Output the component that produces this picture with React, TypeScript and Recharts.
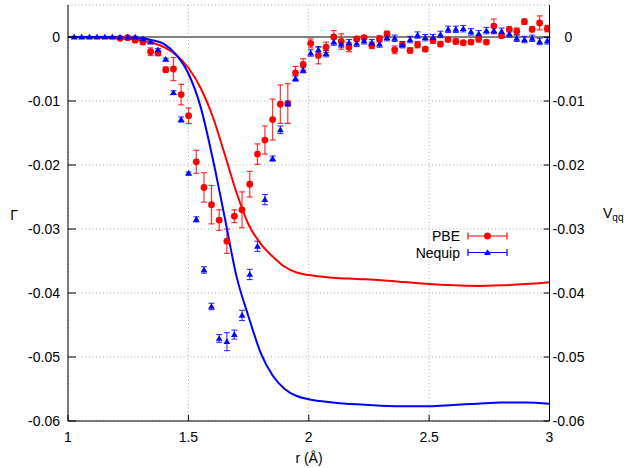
import {
  ComposedChart,
  Line,
  Scatter,
  XAxis,
  YAxis,
  CartesianGrid,
  ReferenceLine,
  ErrorBar,
  Legend,
} from 'recharts'

// bin centres (Å) for the sampled Γ points
const R_BINS = [
  1.026, 1.057, 1.089, 1.121, 1.153, 1.184, 1.216, 1.248, 1.279, 1.311,
  1.343, 1.374, 1.406, 1.438, 1.470, 1.501, 1.533, 1.565, 1.596, 1.628,
  1.660, 1.691, 1.723, 1.755, 1.787, 1.818, 1.850, 1.882, 1.913, 1.945,
  1.977, 2.008, 2.040, 2.072, 2.104, 2.135, 2.167, 2.199, 2.230, 2.262,
  2.294, 2.325, 2.357, 2.389, 2.421, 2.452, 2.484, 2.516, 2.547, 2.579,
  2.611, 2.642, 2.674, 2.706, 2.738, 2.769, 2.801, 2.833, 2.864, 2.896,
  2.928, 2.959, 2.991,
]

// Nequip Γ, one value per bin
const NEQUIP_G = [
  0, 0, 0, 0, 0, 0, 0, 0, 0, -0.0003,
  -0.0008, -0.002, -0.0035, -0.0087, -0.0129, -0.0213, -0.0285, -0.0364, -0.0421, -0.0471,
  -0.0476, -0.0465, -0.0435, -0.0371, -0.0327, -0.0254, -0.019, -0.0145, -0.0104, -0.0065,
  -0.0052, -0.0025, -0.002, -0.0026, -0.0008, -0.0011, -0.0009, -0.001, -0.0006, -0.0009,
  -0.0011, -0.0001, -0.0002, -0.0012, -0.0004, 0.0003, -0.0001, -0.0001, 0.0004, 0.0012,
  0.0012, 0.0013, 0.0008, 0.0005, 0.001, 0.001, 0.0009, 0.0005, -0.0002, -0.0004,
  -0.0002, -0.0007, -0.0006,
]
const NEQUIP_ERR = [
  0.0001, 0.0001, 0.0001, 0.0001, 0.0001, 0.0001, 0.0001, 0.0001, 0.0001, 0.0002,
  0.0002, 0.0002, 0.0002, 0.0003, 0.0004, 0.0002, 0.0004, 0.0005, 0.0005, 0.0006,
  0.0014, 0.0007, 0.0008, 0.0008, 0.0008, 0.0008, 0.0004, 0.0006, 0.0004, 0.0004,
  0.0004, 0.0005, 0.0005, 0.0005, 0.0005, 0.0005, 0.0005, 0.0005, 0.0005, 0.0005,
  0.0005, 0.0005, 0.0005, 0.0005, 0.0005, 0.0005, 0.0005, 0.0005, 0.0005, 0.0005,
  0.0005, 0.0005, 0.0005, 0.0005, 0.0005, 0.0005, 0.0005, 0.0005, 0.0005, 0.0005,
  0.0005, 0.0005, 0.0005,
]

// PBE Γ starts at the 7th bin
const PBE_R = R_BINS.slice(6)
const PBE_G = [
  -0.0002, -0.0001, -0.0005, -0.0008, -0.0023, -0.0025, -0.0051, -0.005, -0.009, -0.0123,
  -0.0195, -0.0235, -0.0262, -0.0286, -0.0319, -0.028, -0.027, -0.023, -0.0183, -0.0161,
  -0.0129, -0.0105, -0.0104, -0.0056, -0.0043, -0.001, -0.0029, -0.0016, 0, -0.0007,
  -0.0016, -0.0003, -0.0001, -0.0013, -0.0003, 0.0005, -0.002, -0.0012, -0.0021, -0.0012,
  -0.0019, -0.0005, -0.0011, -0.0004, -0.0007, -0.0009, -0.0008, -0.0003, -0.0008, 0.0017,
  0.0002, 0.0012, 0.0009, 0.0024, 0.0012, 0.0022, 0.0013,
]
const PBE_ERR = [
  0.0002, 0.0002, 0.0003, 0.0003, 0.0006, 0.0004, 0.0004, 0.0018, 0.0016, 0.0012,
  0.0018, 0.0023, 0.003, 0.0016, 0.0019, 0.001, 0.0028, 0.002, 0.0016, 0.0022,
  0.0032, 0.003, 0.0031, 0.001, 0.0009, 0.0007, 0.0013, 0.0008, 0.001, 0.0012,
  0.0007, 0.0004, 0.0003, 0.0005, 0.0005, 0.0004, 0.0006, 0.0004, 0.0004, 0.0005,
  0.0003, 0.0005, 0.0004, 0.0003, 0.0004, 0.0003, 0.0003, 0.0005, 0.0003, 0.0011,
  0.0003, 0.0004, 0.0005, 0.0004, 0.0004, 0.0011, 0.0005,
]

// V_qq curves
const CURVE_R = [
  1.0, 1.1, 1.2, 1.25, 1.3, 1.35, 1.4, 1.45, 1.5, 1.55, 1.6, 1.65, 1.7, 1.75, 1.8,
  1.85, 1.9, 1.95, 2.0, 2.1, 2.2, 2.3, 2.4, 2.5, 2.6, 2.7, 2.8, 2.9, 3.0,
]
const PBE_VQQ = [
  0, -0.0001, -0.0002, -0.0003, -0.0005, -0.0009, -0.0016, -0.0028, -0.0048, -0.0079,
  -0.0123, -0.0182, -0.0243, -0.0293, -0.0323, -0.0343, -0.0359, -0.0368, -0.0372, -0.0376,
  -0.0378, -0.038, -0.0383, -0.0386, -0.0388, -0.0389, -0.0388, -0.0386, -0.0383,
]
const NEQUIP_VQQ = [
  0, 0, 0, -0.0001, -0.0002, -0.0005, -0.0011, -0.0028, -0.0057, -0.0108,
  -0.0188, -0.028, -0.0374, -0.0437, -0.0493, -0.0529, -0.055, -0.0561, -0.0566, -0.0571,
  -0.0574, -0.0576, -0.0577, -0.0577, -0.0575, -0.0573, -0.0571, -0.0571, -0.0573,
]

const X_TICKS = [1, 1.5, 2, 2.5, 3]
const Y_TICKS = [0, -0.01, -0.02, -0.03, -0.04, -0.05, -0.06]

const RED = '#ff0000'
const BLUE = '#0000ff'
const FONT = '"Liberation Sans", Arial, sans-serif'

const nequipPts = NEQUIP_G.map((v, i) => ({ r: R_BINS[i], v, e: NEQUIP_ERR[i] }))
const pbePts = PBE_G.map((v, i) => ({ r: PBE_R[i], v, e: PBE_ERR[i] }))
const pbeCurve = CURVE_R.map((r, i) => ({ r, v: PBE_VQQ[i] }))
const nequipCurve = CURVE_R.map((r, i) => ({ r, v: NEQUIP_VQQ[i] }))

const fmtY = (v: number) => (v === 0 ? '0' : v.toFixed(2))

const Dot = (p: any) => <circle cx={p.cx} cy={p.cy} r={3.4} fill={RED} stroke="none" />
const Tri = (p: any) => (
  <polygon
    points={`${p.cx},${p.cy - 3.3} ${p.cx - 3.4},${p.cy + 2.4} ${p.cx + 3.4},${p.cy + 2.4}`}
    fill={BLUE}
    stroke="none"
  />
)

// ticks point into the plot, gnuplot style
const LeftTick = ({ x, y, payload }: any) => (
  <g>
    <line x1={x + 8} x2={x + 16} y1={y} y2={y} stroke="#000" />
    <text x={x} y={y} textAnchor="end" dominantBaseline="central" fontSize={14} fill="#000">
      {fmtY(payload.value)}
    </text>
  </g>
)
const RightTick = ({ x, y, payload }: any) => (
  <g>
    <line x1={x} x2={x - 6} y1={y} y2={y} stroke="#000" />
    <text x={x + 19} y={y} textAnchor="middle" dominantBaseline="central" fontSize={14} fill="#000">
      {fmtY(payload.value)}
    </text>
  </g>
)
const BottomTick = ({ x, y, payload }: any) => (
  <g>
    <line x1={x} x2={x} y1={y} y2={y - 6} stroke="#000" />
    <text x={x} y={y + 16} textAnchor="middle" dominantBaseline="central" fontSize={14} fill="#000">
      {String(payload.value)}
    </text>
  </g>
)
const TopTick = ({ x, y }: any) => <line x1={x} x2={x} y1={y} y2={y + 6} stroke="#000" />

const Sample = ({ y, color, marker }: { y: number; color: string; marker: 'dot' | 'tri' }) => (
  <g>
    <g stroke={color} strokeWidth={1.2}>
      <line x1={88} x2={127} y1={y} y2={y} />
      <line x1={88} x2={88} y1={y - 3.5} y2={y + 3.5} />
      <line x1={127} x2={127} y1={y - 3.5} y2={y + 3.5} />
    </g>
    {marker === 'dot' ? <Dot cx={107.5} cy={y} /> : <Tri cx={107.5} cy={y} />}
  </g>
)

const LegendBox = () => (
  <svg width={140} height={36} style={{ fontFamily: FONT }}>
    <text x={80} y={10} textAnchor="end" dominantBaseline="central" fontSize={14} fill="#000">
      PBE
    </text>
    <Sample y={10} color={RED} marker="dot" />
    <text x={80} y={26.5} textAnchor="end" dominantBaseline="central" fontSize={14} fill="#000">
      Nequip
    </text>
    <Sample y={26.5} color={BLUE} marker="tri" />
  </svg>
)

export default function App() {
  return (
    <div
      style={{
        position: 'absolute',
        left: 0,
        top: 0,
        width: 626,
        height: 468,
        background: '#fff',
        fontFamily: FONT,
      }}
    >
      <ComposedChart
        width={626}
        height={468}
        margin={{ top: 5, right: 26.5, bottom: 17, left: 0 }}
      >
        <CartesianGrid
          xAxisId="b"
          yAxisId="l"
          stroke="#aaaaaa"
          strokeDasharray="1 2.5"
        />
        <XAxis
          xAxisId="b"
          dataKey="r"
          type="number"
          domain={[1, 3]}
          ticks={X_TICKS}
          allowDataOverflow
          height={30}
          tickSize={0}
          tickMargin={0}
          tickLine={false}
          axisLine={{ stroke: '#000' }}
          tick={<BottomTick />}
          label={{
            content: () => (
              <text x={309} y={458} textAnchor="middle" dominantBaseline="central" fontSize={14} fill="#000">
                r (Å)
              </text>
            ),
          }}
        />
        <XAxis
          xAxisId="t"
          orientation="top"
          dataKey="r"
          type="number"
          domain={[1, 3]}
          ticks={[1.5, 2, 2.5]}
          height={0}
          tickSize={0}
          tickMargin={0}
          tickLine={false}
          axisLine={{ stroke: '#000' }}
          tick={<TopTick />}
        />
        <YAxis
          yAxisId="l"
          dataKey="v"
          type="number"
          domain={[-0.06, 0.005]}
          ticks={Y_TICKS}
          allowDataOverflow
          width={68}
          tickSize={0}
          tickMargin={8}
          tickLine={false}
          axisLine={{ stroke: '#000' }}
          tick={<LeftTick />}
          label={{
            content: () => (
              <text x={14} y={215} textAnchor="middle" dominantBaseline="central" fontSize={14} fill="#000">
                Γ
              </text>
            ),
          }}
        />
        <YAxis
          yAxisId="r"
          orientation="right"
          type="number"
          domain={[-0.06, 0.005]}
          ticks={Y_TICKS}
          allowDataOverflow
          width={50}
          tickSize={0}
          tickMargin={0}
          tickLine={false}
          axisLine={{ stroke: '#000' }}
          tick={<RightTick />}
          label={{
            content: () => (
              <text x={603} y={213} dominantBaseline="central" fontSize={14} fill="#000">
                V
                <tspan fontSize={10} dy={4}>
                  qq
                </tspan>
              </text>
            ),
          }}
        />
        <ReferenceLine xAxisId="b" yAxisId="l" y={0} stroke="#808080" strokeWidth={1.8} />

        <Scatter
          xAxisId="b"
          yAxisId="l"
          data={pbePts}
          dataKey="v"
          shape={Dot}
          isAnimationActive={false}
        >
          <ErrorBar dataKey="e" direction="y" width={3} stroke={RED} strokeOpacity={0.8} strokeWidth={1.2} />
        </Scatter>
        <Scatter
          xAxisId="b"
          yAxisId="l"
          data={nequipPts}
          dataKey="v"
          shape={Tri}
          isAnimationActive={false}
        >
          <ErrorBar dataKey="e" direction="y" width={3} stroke={BLUE} strokeOpacity={0.8} strokeWidth={1.1} />
        </Scatter>
        <Line
          xAxisId="b"
          yAxisId="l"
          data={pbeCurve}
          dataKey="v"
          type="monotone"
          stroke={RED}
          strokeWidth={2}
          dot={false}
          activeDot={false}
          isAnimationActive={false}
        />
        <Line
          xAxisId="b"
          yAxisId="l"
          data={nequipCurve}
          dataKey="v"
          type="monotone"
          stroke={BLUE}
          strokeWidth={2}
          dot={false}
          activeDot={false}
          isAnimationActive={false}
        />
        <Legend
          layout="vertical"
          align="center"
          verticalAlign="middle"
          wrapperStyle={{ left: 380, top: 226, width: 140, height: 36 }}
          content={<LegendBox />}
        />
      </ComposedChart>
    </div>
  )
}
